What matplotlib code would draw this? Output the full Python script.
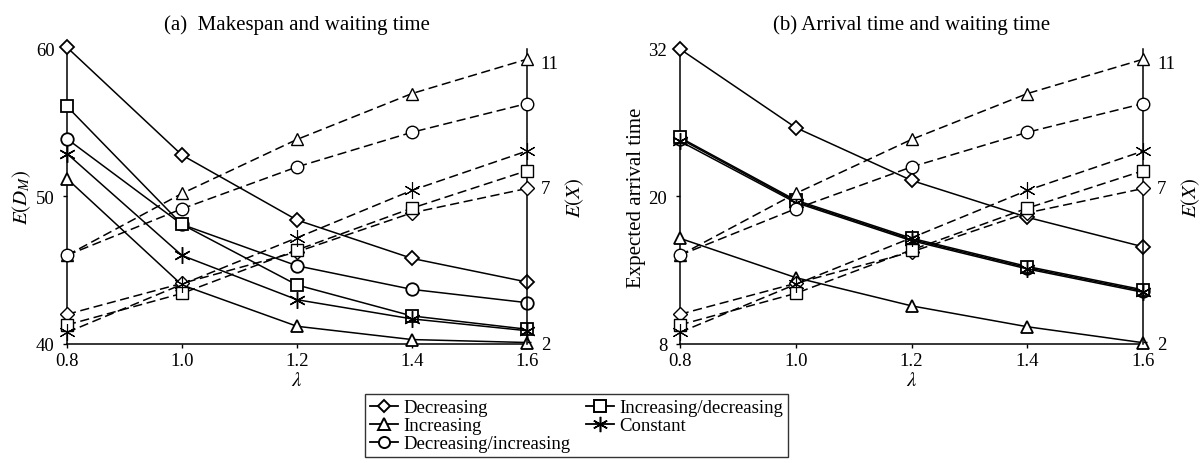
import numpy as np
import matplotlib
matplotlib.use("Agg")
import matplotlib.pyplot as plt
from matplotlib.lines import Line2D

plt.rcParams['font.family'] = ['Liberation Serif', 'DejaVu Serif']
plt.rcParams['mathtext.fontset'] = 'stix'

# ---- data ----
lam = [0.8, 1.0, 1.2, 1.4, 1.6]
names = ["Decreasing", "Increasing", "Decreasing/increasing",
         "Increasing/decreasing", "Constant"]
markers = ["D", "^", "o", "s", (6, 2, 0)]

# (a) expected makespan E(D_M)
makespan_dec = [60.1, 52.8, 48.4, 45.8, 44.2]
makespan_inc = [51.2, 44.0, 41.2, 40.3, 40.1]
makespan_decinc = [53.9, 48.1, 45.3, 43.7, 42.8]
makespan_incdec = [56.1, 48.1, 44.0, 41.9, 41.0]
makespan_const = [52.9, 46.0, 43.0, 41.7, 40.9]

# (b) expected arrival time
arrival_dec = [32.0, 25.6, 21.3, 18.3, 15.9]
arrival_inc = [16.6, 13.4, 11.1, 9.4, 8.1]
arrival_decinc = [24.7, 19.6, 16.5, 14.2, 12.3]
arrival_incdec = [24.8, 19.7, 16.6, 14.3, 12.4]
arrival_const = [24.5, 19.5, 16.4, 14.1, 12.2]

# waiting time E(X)
wait_dec = [2.9, 3.89, 4.9, 6.15, 6.93]
wait_inc = [4.79, 6.77, 8.5, 9.97, 11.07]
wait_decinc = [4.79, 6.28, 7.62, 8.73, 9.65]
wait_incdec = [2.56, 3.57, 4.96, 6.3, 7.5]
wait_const = [2.32, 3.86, 5.35, 6.87, 8.13]

makespan = [makespan_dec, makespan_inc, makespan_decinc, makespan_incdec, makespan_const]
arrival = [arrival_dec, arrival_inc, arrival_decinc, arrival_incdec, arrival_const]
waiting = [wait_dec, wait_inc, wait_decinc, wait_incdec, wait_const]

fig = plt.figure(figsize=(12.01, 4.64), dpi=100)
ax1 = fig.add_axes([0.0558, 0.2565, 0.383, 0.636])
ax2 = fig.add_axes([0.566, 0.2565, 0.386, 0.636])


def msize(m):
    if m == "D":
        return 7
    if isinstance(m, tuple):
        return 12
    return 9


def mwidth(m, base):
    return base * 0.8 if isinstance(m, tuple) else base


def panel(ax, solid, ylim, yticks, ylabel, title):
    tw = ax.twinx()
    for vals, m in zip(solid, markers):
        ax.plot(lam, vals, color='black', lw=1.1, marker=m, ms=msize(m),
                mfc='white', mec='black', mew=mwidth(m, 1.3), clip_on=False, zorder=3)
    for vals, m in zip(waiting, markers):
        tw.plot(lam, vals, color='black', lw=1.1, ls=(0, (6, 3)), marker=m, ms=msize(m),
                mfc='white', mec='black', mew=mwidth(m, 1.0), clip_on=False, zorder=3)
    ax.set_xlim(0.8, 1.6)
    ax.set_ylim(*ylim)
    tw.set_ylim(1.95, 11.4)
    ax.set_xticks(lam)
    ax.set_xticklabels([f"{v:.1f}" for v in lam])
    ax.set_yticks(yticks)
    tw.set_yticks([2, 7, 11])
    for a in (ax, tw):
        a.spines['top'].set_visible(False)
        a.tick_params(labelsize=13.5, length=3, width=1, direction='out', pad=3)
        for s in a.spines.values():
            s.set_linewidth(1.1)
    ax.tick_params(axis='y', pad=6)
    tw.tick_params(axis='y', pad=7)
    ax.spines['right'].set_visible(False)
    tw.spines['left'].set_visible(False)
    tw.spines['bottom'].set_visible(False)
    ax.set_xlabel(r"$\lambda$", fontsize=15, labelpad=1)
    ax.set_ylabel(ylabel, fontsize=15, labelpad=2)
    tw.set_ylabel(r"$E(X)$", fontsize=15, labelpad=3)
    ax.set_title(title, fontsize=15, pad=14)


panel(ax1, makespan, (40, 60), [40, 50, 60], r"$E(D_M)$", "(a)  Makespan and waiting time")
panel(ax2, arrival, (8, 32), [8, 20, 32], "Expected arrival time", "(b) Arrival time and waiting time")

handles = [Line2D([], [], color='black', lw=1.3, marker=m, ms=msize(m) - 1, mfc='white',
                  mec='black', mew=mwidth(m, 1.4)) for m in markers]
fig.legend(handles, names,
           loc='upper center', bbox_to_anchor=(0.48, 0.148), ncol=2,
           fontsize=13.5, frameon=True, fancybox=False, edgecolor='black',
           handlelength=1.5, handletextpad=0.3, columnspacing=0.8,
           labelspacing=0.05, borderpad=0.25, borderaxespad=0)

fig.savefig("out.png", dpi=100)
